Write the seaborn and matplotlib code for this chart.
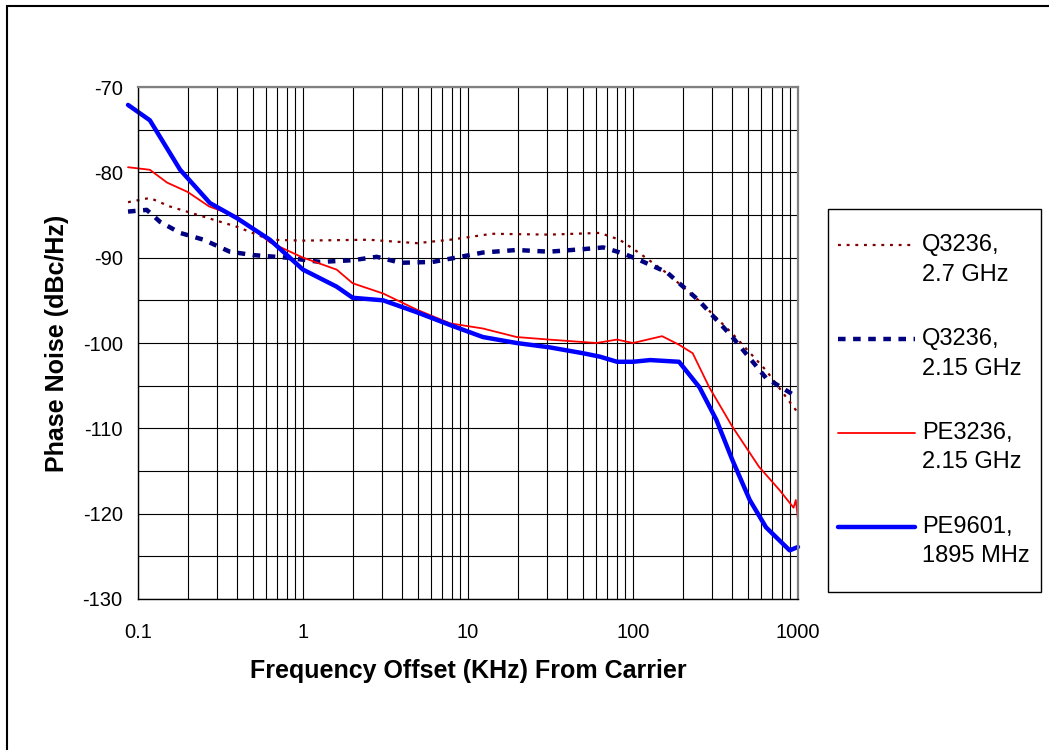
import matplotlib
matplotlib.use("Agg")
import matplotlib.pyplot as plt
import matplotlib.ticker as mticker
from matplotlib.patches import Rectangle
import numpy as np
import seaborn as sns

# data (offset in kHz, phase noise in dBc/Hz)
pe9601_f = [0.087, 0.118, 0.18, 0.273, 0.4, 0.63, 1.0, 1.6, 2.0, 3.06, 4.9, 7.8, 12.3, 19.7,
            31, 49.8, 63, 80, 100, 127, 190, 253, 320, 400, 510, 640, 890, 1000]
pe9601_db = [-72.1, -73.9, -79.7, -83.6, -85.4, -87.9, -91.4, -93.4, -94.7, -95.0, -96.4, -97.9,
             -99.3, -100.0, -100.5, -101.2, -101.6, -102.2, -102.2, -102.0, -102.2, -105.2, -109.0,
             -113.7, -118.4, -121.6, -124.3, -123.9]

pe3236_f = [0.087, 0.118, 0.15, 0.2, 0.27, 0.4, 0.63, 1.0, 1.6, 2.0, 3.06, 4.9, 7.8, 12.3, 19.7,
            31, 60, 80, 100, 150, 190, 230, 290, 400, 580, 770, 940, 970, 1000]
pe3236_db = [-79.4, -79.7, -81.2, -82.3, -84.0, -85.2, -88.2, -90.0, -91.4, -93.0, -94.2, -96.1,
             -97.7, -98.3, -99.3, -99.6, -100.0, -99.6, -100.0, -99.2, -100.2, -101.2, -105.2,
             -109.8, -114.5, -117.2, -119.3, -118.4, -120.7]

q27_f = [0.087, 0.118, 0.156, 0.25, 0.4, 0.63, 1.0, 2.5, 4.9, 7.8, 14, 31, 63, 83, 110, 160,
         250, 400, 640, 1000]
q27_db = [-83.5, -83.0, -84.0, -85.2, -86.4, -87.9, -88.0, -87.9, -88.3, -87.9, -87.2, -87.3,
          -87.1, -87.9, -89.5, -91.8, -95.0, -98.9, -103.2, -108.2]

q215_f = [0.087, 0.113, 0.136, 0.18, 0.25, 0.36, 0.5, 0.8, 1.27, 2.0, 2.8, 3.9, 6.1, 9, 12.3,
          19.7, 31, 50, 66, 87, 110, 160, 250, 400, 640, 1000]
q215_db = [-84.6, -84.4, -85.8, -87.1, -87.9, -89.3, -89.7, -90.0, -90.5, -90.3, -89.9, -90.6,
           -90.5, -89.9, -89.4, -89.1, -89.3, -89.0, -88.8, -89.5, -90.3, -91.7, -95.0, -99.3,
           -104.1, -106.4]

x_ticks = [0.1, 1, 10, 100, 1000]
x_tick_labels = ["0.1", "1", "10", "100", "1000"]

sns.set_style("white")
plt.rcParams['font.family'] = ['Liberation Sans', 'DejaVu Sans']
plt.rcParams['axes.unicode_minus'] = False
plt.rcParams['text.color'] = 'black'
plt.rcParams['axes.labelcolor'] = 'black'
plt.rcParams['xtick.color'] = 'black'
plt.rcParams['ytick.color'] = 'black'

W, H = 1049, 750
fig = plt.figure(figsize=(W / 100, H / 100), dpi=100)
ax = fig.add_axes([138 / W, 1 - 599 / H, 660 / W, 512 / H])

# outer chart border (top and left visible)
fig.patches.append(Rectangle((6.5 / W, -0.1), 1.2, 1.1 - 6.5 / H, transform=fig.transFigure,
                             fill=False, edgecolor='black', linewidth=1.5))
# legend box
fig.patches.append(Rectangle((828 / W, 1 - 592 / H), 213 / W, 383 / H, transform=fig.transFigure,
                             fill=False, edgecolor='black', linewidth=1.0))

sns.lineplot(x=q27_f, y=q27_db, ax=ax, color='#800000', linewidth=1.6,
             linestyle=(0, (1.3, 2.6)), label='Q3236,\n2.7 GHz', clip_on=False)
sns.lineplot(x=q215_f, y=q215_db, ax=ax, color='#000080', linewidth=3.2,
             linestyle=(0, (1.7, 1.7)), label='Q3236,\n2.15 GHz', clip_on=False)
sns.lineplot(x=pe3236_f, y=pe3236_db, ax=ax, color='#ff0000', linewidth=1.3,
             label='PE3236,\n2.15 GHz', clip_on=False)
sns.lineplot(x=pe9601_f, y=pe9601_db, ax=ax, color='#0000ff', linewidth=3.2,
             label='PE9601,\n1895 MHz', clip_on=False)

ax.set_xscale('log')
ax.set_xlim(0.1, 1000)
ax.set_ylim(-130, -70)
ax.set_xticks(x_ticks)
ax.xaxis.set_major_formatter(mticker.FixedFormatter(x_tick_labels))
ax.xaxis.set_minor_locator(mticker.LogLocator(base=10, subs=np.arange(2, 10)))
ax.xaxis.set_minor_formatter(mticker.NullFormatter())
ax.yaxis.set_major_locator(mticker.MultipleLocator(10))
ax.yaxis.set_minor_locator(mticker.MultipleLocator(5))

ax.grid(which='both', axis='both', color='black', linewidth=0.8)
ax.set_axisbelow(True)
ax.tick_params(axis='both', which='major', direction='out', length=5, width=1,
               color='black', labelsize=14.5)
ax.tick_params(axis='x', which='major', pad=12)
ax.tick_params(axis='y', which='major', pad=6)
ax.tick_params(which='minor', length=0)

for side in ['left', 'bottom']:
    ax.spines[side].set_color('black')
    ax.spines[side].set_linewidth(1.0)
for side in ['top', 'right']:
    ax.spines[side].set_color('#808080')
    ax.spines[side].set_linewidth(1.6)

ax.set_xlabel('Frequency Offset (KHz) From Carrier', fontsize=18, fontweight='bold')
ax.set_ylabel('Phase Noise (dBc/Hz)', fontsize=18, fontweight='bold')
ax.xaxis.set_label_coords(0.5, -0.117)
ax.yaxis.set_label_coords(-0.105, 0.5)

leg = ax.legend(loc='upper left', bbox_to_anchor=(838 / W, 1 - 234 / H),
                bbox_transform=fig.transFigure, fontsize=17, frameon=False,
                handlelength=3.25, handletextpad=0.3, labelspacing=1.79,
                borderpad=0, borderaxespad=0)
for t in leg.get_texts():
    t.set_linespacing(1.45)
# put each handle level with the first line of its label
for line in leg.get_lines():
    line.set_ydata(np.asarray(line.get_ydata()) + 11)

fig.savefig('out.png', dpi=100)
